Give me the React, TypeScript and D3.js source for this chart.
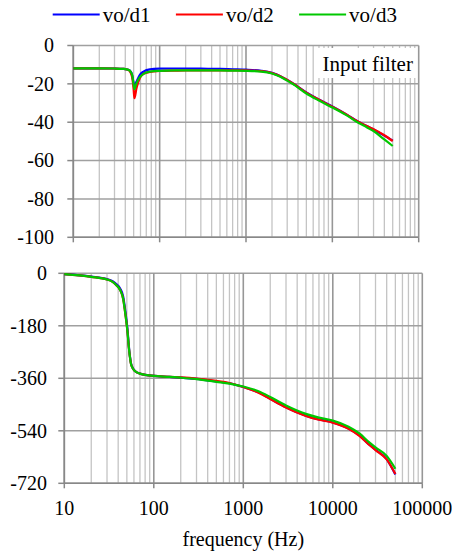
import React from 'react';
import * as d3 from 'd3';

// ---------- data ----------
const seriesNames = ['vo/d1', 'vo/d2', 'vo/d3'];
const seriesColors = ['#0000ff', '#ff0000', '#00c800'];

const magFreq = [10, 20, 30, 38, 42, 45, 48, 50, 51, 54, 59, 65, 77, 100, 150, 200, 300, 500, 700, 1000, 1500, 2000, 2500, 3000, 3500, 5000, 7000, 10000, 15000, 20000, 25000, 30000, 40000, 50000];
const magD1 = [-11.9, -11.9, -12, -12.2, -12.5, -13, -15.5, -19.5, -21.4, -18.8, -15.3, -13.6, -12.4, -12.1, -12, -12, -12.1, -12.2, -12.4, -12.6, -13.2, -14.3, -16, -18, -19.8, -24.5, -28.2, -31.8, -36.3, -39.8, -42, -43.8, -47, -49.6];
const magD2 = [-11.9, -11.9, -12, -12.2, -12.5, -13.3, -16.5, -23, -27.5, -22.2, -17, -14.8, -13.8, -13.3, -13.1, -13, -13, -13, -13, -13, -13.4, -14.4, -16, -18, -19.8, -24.6, -28.3, -31.9, -36.3, -39.8, -42, -43.6, -46.8, -49.8];
const magD3 = [-11.9, -11.9, -12, -12.2, -12.5, -13.1, -15.3, -20.5, -22.8, -19.6, -16.5, -14.8, -13.6, -13.2, -13, -13, -13, -13, -13.1, -13.2, -13.6, -14.6, -16.3, -18.3, -20.1, -25, -28.7, -32.3, -36.7, -40.3, -42.6, -44.6, -49, -52.4];

const phaseFreq = [10, 20, 30, 35, 38, 42, 45.5, 48, 50, 51, 52.5, 54, 55.5, 58, 62, 70, 80, 100, 150, 200, 300, 500, 700, 1000, 1500, 2000, 3000, 5000, 7000, 10000, 15000, 20000, 25000, 30000, 40000, 50000];
const phaseD1 = [-3, -11, -20, -28, -37, -52, -80, -128, -172, -198, -246, -282, -307, -324, -336, -344, -348, -352, -355, -358, -362, -371, -377, -390, -409, -430, -459, -488, -501, -511, -532, -557, -585, -605, -637, -690];
const phaseD2 = [-3, -12, -21, -30, -40, -57, -88, -137, -180, -205, -251, -285, -309, -325, -336, -344, -348, -352, -355, -357, -361, -369, -376, -390, -410, -431, -460, -489, -502, -512, -533, -558, -586, -606, -638, -688];
const phaseD3 = [-3, -12, -21, -30, -40, -57, -88, -137, -180, -205, -251, -285, -309, -325, -336, -344, -348, -352, -355, -358, -363, -372, -378, -388, -405, -424, -453, -482, -495, -505, -526, -550, -577, -597, -626, -670];

const magTicks = [0, -20, -40, -60, -80, -100];
const phaseTicks = [0, -180, -360, -540, -720];
const freqTicks = [10, 100, 1000, 10000, 100000];
const freqLabels = ['10', '100', '1000', '10000', '100000'];
const xTitle = 'frequency (Hz)';
const noteText = 'Input filter';

// ---------- layout ----------
const W = 452;
const H = 554;
const FONT = "'Liberation Serif', 'Times New Roman', Times, 'Nimbus Roman', 'Nimbus Roman No9 L', Tinos, 'Noto Serif', 'DejaVu Serif', FreeSerif, serif";

const minorFreqs: number[] = [];
[10, 100, 1000, 10000].forEach((d) => {
  for (let k = 2; k <= 9; k++) minorFreqs.push(k * d);
});

type PanelProps = {
  left: number;
  right: number;
  top: number;
  bottom: number;
  yDomain: [number, number];
  yTicks: number[];
  xFreqs: number[];
  series: number[][];
  labelEnd: number;
  showXLabels: boolean;
};

function Panel(p: PanelProps) {
  const x = d3.scaleLog().domain([10, 100000]).range([p.left, p.right]);
  const y = d3.scaleLinear().domain(p.yDomain).range([p.top, p.bottom]);
  const line = d3
    .line<number>()
    .x((_, i) => x(p.xFreqs[i]))
    .y((v) => y(v))
    .curve(d3.curveMonotoneX);
  return (
    <g>
      {minorFreqs.map((f) => (
        <line key={'m' + f} x1={x(f)} x2={x(f)} y1={p.top} y2={p.bottom} stroke="#c4c4c4" strokeWidth={1.3} />
      ))}
      {p.yTicks.map((t) => (
        <line key={'h' + t} x1={p.left} x2={p.right} y1={y(t)} y2={y(t)} stroke="#a0a0a0" strokeWidth={1.5} />
      ))}
      {freqTicks.map((f) => (
        <line key={'v' + f} x1={x(f)} x2={x(f)} y1={p.top} y2={p.bottom} stroke="#979797" strokeWidth={1.6} />
      ))}
      <line x1={p.left} x2={p.left} y1={p.top} y2={p.bottom} stroke="#888" strokeWidth={1.6} />
      <line x1={p.left} x2={p.right} y1={p.bottom} y2={p.bottom} stroke="#888" strokeWidth={1.6} />
      {p.yTicks.map((t) => (
        <line key={'yt' + t} x1={p.left - 6} x2={p.left} y1={y(t)} y2={y(t)} stroke="#888" strokeWidth={1.5} />
      ))}
      {freqTicks.map((f) => (
        <line key={'xt' + f} x1={x(f)} x2={x(f)} y1={p.bottom} y2={p.bottom + 5} stroke="#888" strokeWidth={1.5} />
      ))}
      {p.yTicks.map((t) => (
        <text key={'yl' + t} x={p.labelEnd} y={y(t)} dy="0.34em" textAnchor="end" style={{ fontFamily: FONT }} fontSize={20} fill="#000">
          {String(t)}
        </text>
      ))}
      {p.showXLabels &&
        freqTicks.map((f, i) => (
          <text key={'xl' + f} x={x(f)} y={p.bottom + 31.5} textAnchor="middle" style={{ fontFamily: FONT }} fontSize={20} fill="#000">
            {freqLabels[i]}
          </text>
        ))}
      {p.series.map((s, i) => (
        <path key={'s' + i} d={line(s) || ''} fill="none" stroke={seriesColors[i]} strokeWidth={2.2} strokeLinejoin="round" />
      ))}
    </g>
  );
}

export default function App() {
  const topP = { left: 73.3, right: 418.7, top: 45.5, bottom: 237.3 };
  const botP = { left: 64.3, right: 422.3, top: 273.3, bottom: 483.3 };
  return (
    <svg width={W} height={H} viewBox={`0 0 ${W} ${H}`} style={{ position: 'absolute', left: 0, top: 0, background: '#fff' }}>
      <rect x={0} y={0} width={W} height={H} fill="#fff" />
      {seriesNames.map((n, i) => {
        const x0 = 52.7 + i * 123.2;
        return (
          <g key={n}>
            <line x1={x0} x2={x0 + 47} y1={14.5} y2={14.5} stroke={seriesColors[i]} strokeWidth={2.2} />
            <text x={x0 + 50} y={21.5} style={{ fontFamily: FONT }} fontSize={21} fill="#000">
              {n}
            </text>
          </g>
        );
      })}
      <Panel
        {...topP}
        yDomain={[0, -100]}
        yTicks={magTicks}
        xFreqs={magFreq}
        series={[magD1, magD2, magD3]}
        labelEnd={54}
        showXLabels={false}
      />
      <rect x={316} y={48} width={101} height={30} fill="#fff" />
      <text x={322.5} y={71} style={{ fontFamily: FONT }} fontSize={21} fill="#000">
        {noteText}
      </text>
      <Panel
        {...botP}
        yDomain={[0, -720]}
        yTicks={phaseTicks}
        xFreqs={phaseFreq}
        series={[phaseD1, phaseD2, phaseD3]}
        labelEnd={47}
        showXLabels={true}
      />
      <text x={(botP.left + botP.right) / 2} y={546} textAnchor="middle" style={{ fontFamily: FONT }} fontSize={20} fill="#000">
        {xTitle}
      </text>
    </svg>
  );
}
